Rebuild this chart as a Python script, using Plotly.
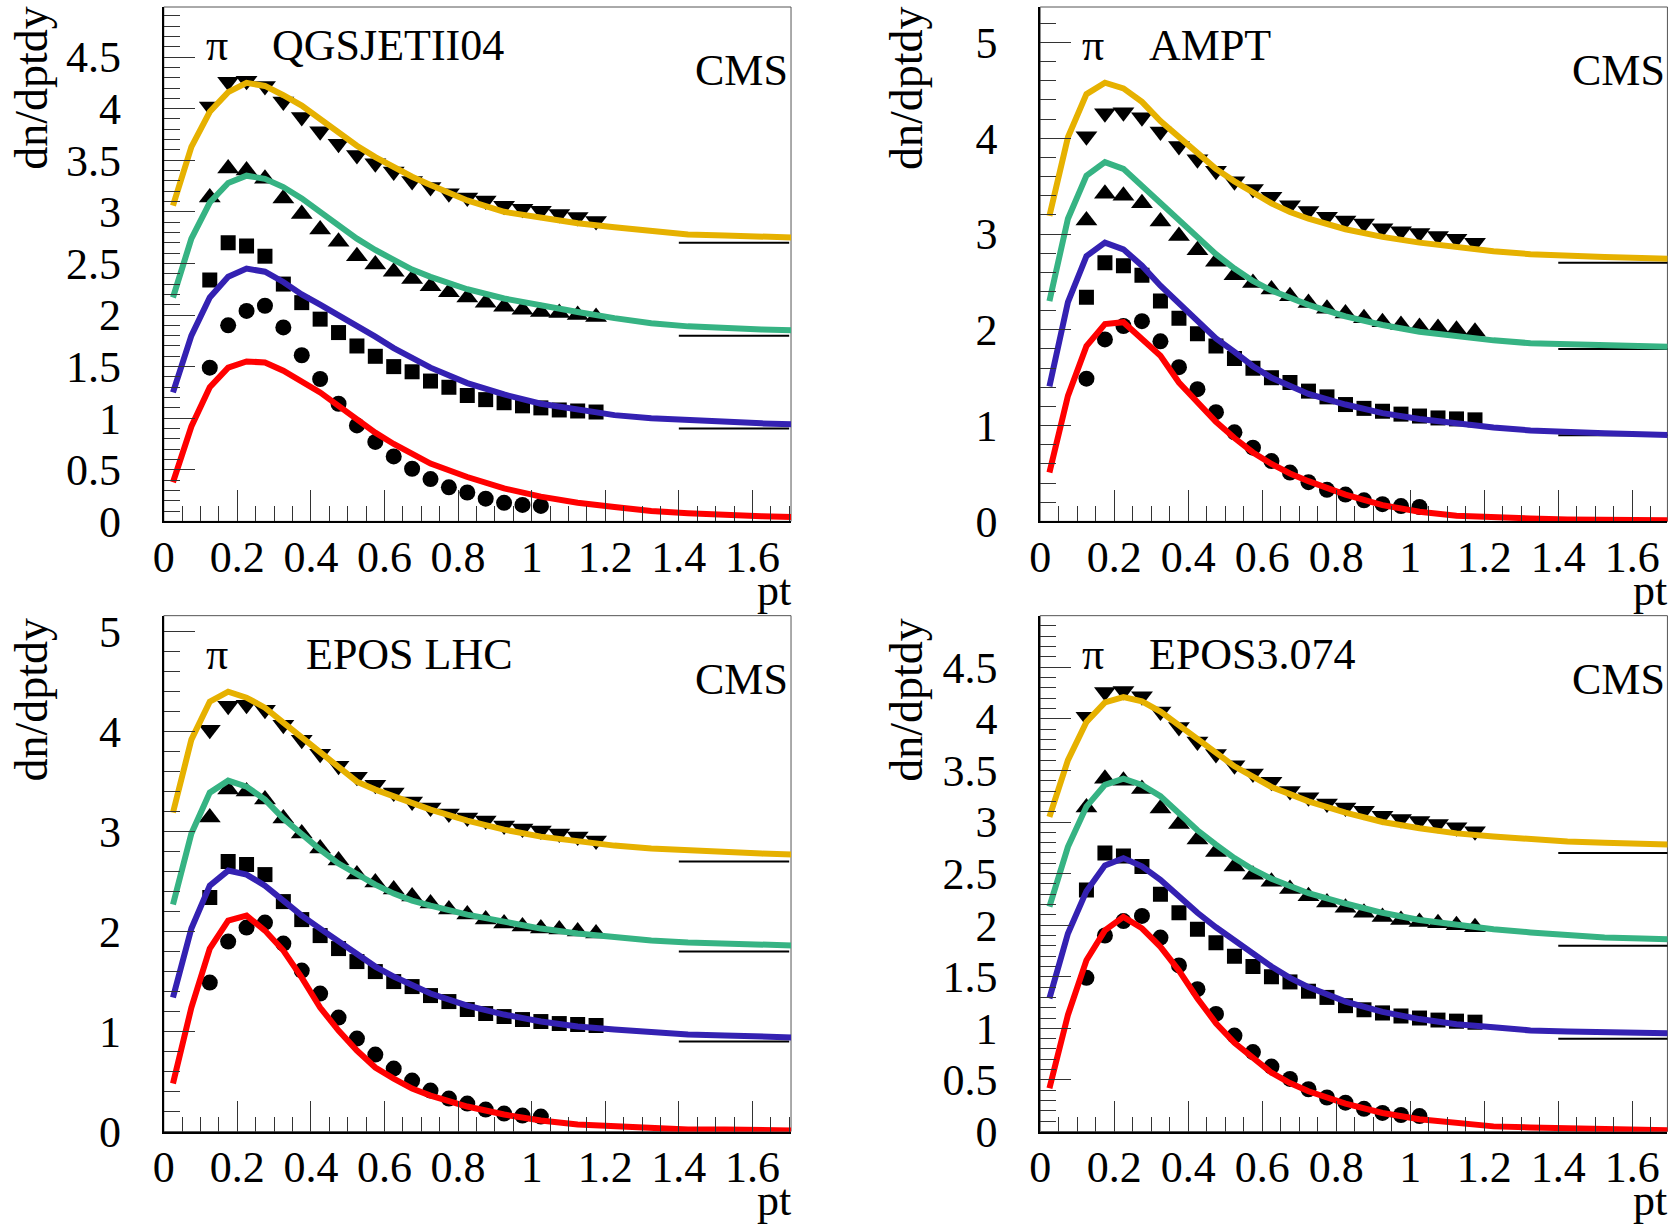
import plotly.graph_objects as go

# ---------------- data ----------------
pt_circ = [0.125, 0.175, 0.225, 0.275, 0.325, 0.375, 0.425, 0.475, 0.525, 0.575,
           0.625, 0.675, 0.725, 0.775, 0.825, 0.875, 0.925, 0.975, 1.025]
pt_data = [0.125, 0.175, 0.225, 0.275, 0.325, 0.375, 0.425, 0.475, 0.525, 0.575,
           0.625, 0.675, 0.725, 0.775, 0.825, 0.875, 0.925, 0.975, 1.025, 1.075,
           1.125, 1.175]
cms_circ = [1.49, 1.90, 2.04, 2.09, 1.88, 1.61, 1.38, 1.14, 0.93, 0.77,
            0.63, 0.51, 0.41, 0.33, 0.28, 0.22, 0.18, 0.16, 0.15]
cms_sq = [2.34, 2.70, 2.67, 2.57, 2.30, 2.12, 1.96, 1.83, 1.70, 1.60,
          1.50, 1.45, 1.36, 1.30, 1.22, 1.18, 1.15, 1.12, 1.10, 1.08, 1.07, 1.06]
cms_tri = [3.14, 3.42, 3.40, 3.32, 3.13, 2.98, 2.83, 2.71, 2.57, 2.49,
           2.42, 2.35, 2.28, 2.22, 2.17, 2.12, 2.08, 2.05, 2.03, 2.02, 2.00, 1.98]
cms_itri = [4.02, 4.26, 4.27, 4.22, 4.07, 3.92, 3.78, 3.66, 3.55, 3.47,
            3.39, 3.30, 3.24, 3.18, 3.14, 3.11, 3.06, 3.03, 3.01, 2.98, 2.95, 2.91]

pt_model = [0.025, 0.075, 0.125, 0.175, 0.225, 0.275, 0.325, 0.375, 0.425, 0.475,
            0.525, 0.575, 0.625, 0.675, 0.725, 0.825, 0.925, 1.025, 1.125, 1.225,
            1.325, 1.425, 1.525, 1.625, 1.725]

qgs_red = [0.38, 0.92, 1.30, 1.49, 1.55, 1.54, 1.46, 1.36, 1.25, 1.12, 0.99, 0.86, 0.75,
           0.65, 0.56, 0.43, 0.32, 0.24, 0.18, 0.14, 0.10, 0.08, 0.06, 0.05, 0.04]
qgs_blue = [1.25, 1.80, 2.17, 2.37, 2.45, 2.42, 2.32, 2.20, 2.10, 2.00, 1.89, 1.79, 1.68,
            1.58, 1.49, 1.34, 1.23, 1.14, 1.08, 1.03, 1.00, 0.98, 0.96, 0.95, 0.94]
qgs_green = [2.17, 2.74, 3.09, 3.28, 3.35, 3.32, 3.24, 3.13, 3.00, 2.87, 2.74, 2.63, 2.53,
             2.44, 2.37, 2.25, 2.16, 2.09, 2.03, 1.97, 1.92, 1.89, 1.87, 1.86, 1.85]
qgs_yellow = [3.06, 3.63, 3.97, 4.16, 4.25, 4.22, 4.13, 4.03, 3.90, 3.77, 3.64, 3.53, 3.43,
              3.34, 3.26, 3.11, 3.00, 2.94, 2.89, 2.85, 2.81, 2.78, 2.77, 2.76, 2.75]

ampt_red = [0.51, 1.31, 1.83, 2.06, 2.08, 1.90, 1.73, 1.45, 1.24, 1.04, 0.87, 0.72, 0.60,
            0.50, 0.42, 0.28, 0.17, 0.10, 0.06, 0.04, 0.03, 0.02, 0.02, 0.01, 0.01]
ampt_blue = [1.41, 2.29, 2.77, 2.91, 2.84, 2.67, 2.46, 2.27, 2.08, 1.91, 1.77, 1.62, 1.50,
             1.41, 1.33, 1.22, 1.13, 1.07, 1.02, 0.98, 0.95, 0.93, 0.92, 0.91, 0.90]
ampt_green = [2.30, 3.16, 3.61, 3.75, 3.68, 3.50, 3.32, 3.13, 2.95, 2.79, 2.64, 2.51, 2.41,
              2.33, 2.26, 2.14, 2.05, 1.98, 1.93, 1.89, 1.86, 1.85, 1.84, 1.83, 1.82]
ampt_yellow = [3.19, 4.01, 4.46, 4.58, 4.52, 4.38, 4.18, 4.01, 3.84, 3.68, 3.55, 3.43, 3.32,
               3.23, 3.16, 3.05, 2.97, 2.91, 2.86, 2.82, 2.79, 2.77, 2.76, 2.75, 2.74]

lhc_red = [0.48, 1.24, 1.83, 2.11, 2.16, 2.01, 1.81, 1.54, 1.24, 1.01, 0.81, 0.64, 0.53,
           0.43, 0.36, 0.25, 0.17, 0.11, 0.07, 0.05, 0.03, 0.02, 0.02, 0.01, 0.01]
lhc_blue = [1.34, 2.03, 2.46, 2.61, 2.57, 2.46, 2.31, 2.16, 2.03, 1.90, 1.77, 1.65, 1.55,
            1.46, 1.38, 1.26, 1.17, 1.10, 1.05, 1.02, 0.99, 0.97, 0.96, 0.95, 0.94]
lhc_green = [2.27, 2.98, 3.39, 3.51, 3.45, 3.32, 3.13, 2.97, 2.82, 2.68, 2.57, 2.47, 2.38,
             2.31, 2.26, 2.17, 2.10, 2.03, 1.98, 1.94, 1.91, 1.89, 1.88, 1.87, 1.86]
lhc_yellow = [3.19, 3.92, 4.30, 4.40, 4.34, 4.24, 4.09, 3.94, 3.79, 3.64, 3.50, 3.42, 3.35,
              3.28, 3.22, 3.11, 3.02, 2.95, 2.90, 2.86, 2.83, 2.81, 2.79, 2.78, 2.77]

e3_red = [0.42, 1.13, 1.66, 1.95, 2.08, 1.97, 1.79, 1.56, 1.29, 1.05, 0.86, 0.71, 0.57,
          0.47, 0.39, 0.27, 0.18, 0.12, 0.08, 0.05, 0.04, 0.03, 0.02, 0.02, 0.01]
e3_blue = [1.29, 1.92, 2.33, 2.58, 2.65, 2.57, 2.44, 2.27, 2.12, 1.98, 1.85, 1.72, 1.60,
           1.49, 1.40, 1.26, 1.16, 1.09, 1.04, 1.01, 0.98, 0.97, 0.96, 0.955, 0.95]
e3_green = [2.18, 2.76, 3.15, 3.36, 3.42, 3.36, 3.25, 3.09, 2.92, 2.78, 2.65, 2.54, 2.45,
            2.38, 2.31, 2.21, 2.12, 2.05, 2.00, 1.96, 1.93, 1.90, 1.88, 1.87, 1.86]
e3_yellow = [3.05, 3.60, 3.97, 4.16, 4.21, 4.17, 4.07, 3.94, 3.80, 3.67, 3.54, 3.44, 3.34,
             3.27, 3.20, 3.09, 3.00, 2.94, 2.89, 2.86, 2.83, 2.81, 2.80, 2.79, 2.78]

base_x = [1.4, 1.7]
base_levels = [0.9, 1.8, 2.7]

model_names = ["QGSJETII04", "AMPT", "EPOS LHC", "EPOS3.074"]
models = [
    [qgs_red, qgs_blue, qgs_green, qgs_yellow],
    [ampt_red, ampt_blue, ampt_green, ampt_yellow],
    [lhc_red, lhc_blue, lhc_green, lhc_yellow],
    [e3_red, e3_blue, e3_green, e3_yellow],
]
y_max = [4.985, 5.37, 5.16, 5.0]
x_max = [1.705, 1.695, 1.705, 1.695]
y_ticks_half = [True, False, False, True]

# ---------------- style ----------------
FW, FH = 1671, 1270
FONT = "Liberation Serif"
line_colors = ["#ff0000", "#3421b2", "#36b383", "#e6b100"]
x_doms = [[153.8 / FW, 785.2 / FW], [1036.0 / FW, 1667.4 / FW]]
y_doms = [[1 - 527.7 / FH, 1.0], [1 - 1153.6 / FH, 1 - 624.4 / FH]]
title_x = [21 / FW, 902 / FW]
title_y = [1.006, 1.0]

fig = go.Figure()
annotations = []
shapes = []

for i in range(4):
    n = i + 1
    xa = "x" if n == 1 else f"x{n}"
    ya = "y" if n == 1 else f"y{n}"
    for lv in base_levels:
        fig.add_trace(go.Scatter(x=base_x, y=[lv, lv], mode="lines",
                                 line=dict(color="black", width=2),
                                 xaxis=xa, yaxis=ya, showlegend=False, hoverinfo="skip"))
    for xs, ys, sym, sz in [(pt_circ, cms_circ, "circle", 16),
                            (pt_data, cms_sq, "square", 15),
                            (pt_data, cms_tri, "triangle-up", 19),
                            (pt_data, cms_itri, "triangle-down", 19)]:
        fig.add_trace(go.Scatter(x=xs, y=ys, mode="markers",
                                 marker=dict(symbol=sym, size=sz, color="black",
                                             line=dict(width=0)),
                                 xaxis=xa, yaxis=ya, showlegend=False, cliponaxis=True))
    for col, ys in zip(line_colors, models[i]):
        fig.add_trace(go.Scatter(x=pt_model, y=ys, mode="lines",
                                 line=dict(color=col, width=6),
                                 xaxis=xa, yaxis=ya, showlegend=False))

    xd = x_doms[i % 2]
    yd = y_doms[i // 2]
    if y_ticks_half[i]:
        yt = [k * 0.5 for k in range(10)]
        ymd = 0.1
    else:
        yt = [0, 1, 2, 3, 4, 5]
        ymd = 0.2
    xt = [0, 0.2, 0.4, 0.6, 0.8, 1.0, 1.2, 1.4, 1.6]

    xkey = "xaxis" if n == 1 else f"xaxis{n}"
    ykey = "yaxis" if n == 1 else f"yaxis{n}"
    fig.layout[xkey] = dict(
        domain=xd, anchor=ya, range=[0, x_max[i]], showgrid=False, zeroline=False,
        showline=True, linecolor="black", linewidth=2,
        ticks="inside", ticklen=31, tickwidth=1, tickcolor="#333333",
        tickmode="array", tickvals=xt,
        tickfont=dict(family=FONT, size=44, color="black"),
        ticklabelstandoff=-4,
        minor=dict(ticks="inside", ticklen=15, tickwidth=1, tickcolor="#333333",
                   dtick=0.05, tick0=0, showgrid=False),
    )
    fig.layout[ykey] = dict(
        domain=yd, anchor=xa, range=[0, y_max[i]], showgrid=False, zeroline=False,
        showline=True, linecolor="black", linewidth=2,
        ticks="inside", ticklen=31, tickwidth=1, tickcolor="#333333",
        tickmode="array", tickvals=yt,
        tickfont=dict(family=FONT, size=44, color="black"),
        ticklabelstandoff=32,
        minor=dict(ticks="inside", ticklen=16, tickwidth=1, tickcolor="#333333",
                   dtick=ymd, tick0=0, showgrid=False),
    )
    shapes.append(dict(type="rect", xref=f"{xa} domain", yref=f"{ya} domain",
                       x0=0, x1=1, y0=0, y1=1, line=dict(color="#555555", width=1),
                       layer="below"))
    name_left = 0.223 if i == 2 else 0.170
    annotations += [
        dict(text="π", xref=f"{xa} domain", yref=f"{ya} domain", x=0.085, y=0.925,
             xanchor="center", yanchor="middle", showarrow=False,
             font=dict(family=FONT, size=44, color="black")),
        dict(text=model_names[i], xref=f"{xa} domain", yref=f"{ya} domain",
             x=name_left, y=0.925, xanchor="left", yanchor="middle", showarrow=False,
             font=dict(family=FONT, size=44, color="black")),
        dict(text="CMS", xref=f"{xa} domain", yref=f"{ya} domain", x=0.999, y=0.877,
             xanchor="right", yanchor="middle", showarrow=False,
             font=dict(family=FONT, size=44, color="black")),
        dict(text="pt", xref=f"{xa} domain", yref=f"{ya} domain", x=1.003, y=-0.1335,
             xanchor="right", yanchor="middle", showarrow=False,
             font=dict(family=FONT, size=44, color="black")),
        dict(text="dn/dptdy", xref="paper", yref=f"{ya} domain",
             x=title_x[i % 2], y=title_y[i // 2], textangle=-90,
             xanchor="center", yanchor="top", showarrow=False,
             font=dict(family=FONT, size=46, color="black")),
    ]

fig.update_layout(
    width=FW, height=FH, margin=dict(l=0, r=0, t=0, b=0),
    paper_bgcolor="white", plot_bgcolor="white",
    showlegend=False, annotations=annotations, shapes=shapes,
)

fig.write_html("out.html")
